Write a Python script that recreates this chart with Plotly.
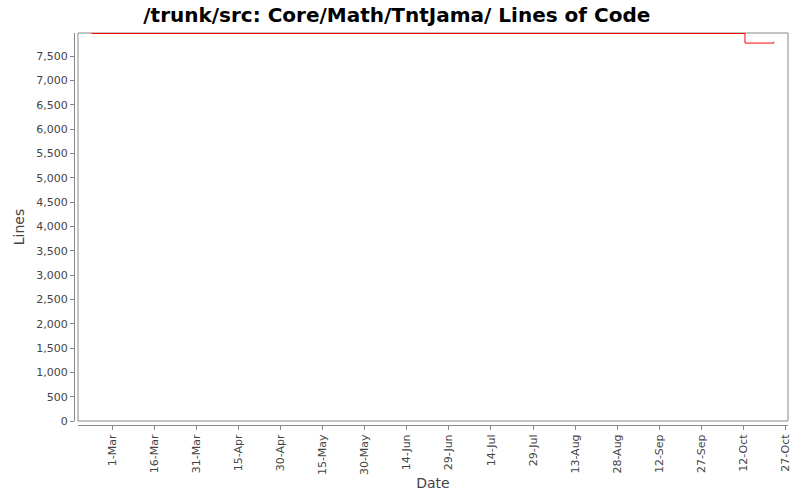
import plotly.graph_objects as go

# step data (lines of code over time)
dates = ["2009-02-21 14:00", "2009-10-12 14:00", "2009-10-22 20:00"]
lines = [7965, 7768, 7795]

tick_dates = ["2009-03-01", "2009-03-16", "2009-03-31", "2009-04-15", "2009-04-30",
              "2009-05-15", "2009-05-30", "2009-06-14", "2009-06-29", "2009-07-14",
              "2009-07-29", "2009-08-13", "2009-08-28", "2009-09-12", "2009-09-27",
              "2009-10-12", "2009-10-27"]
tick_text = ["1-Mar", "16-Mar", "31-Mar", "15-Apr", "30-Apr", "15-May", "30-May",
             "14-Jun", "29-Jun", "14-Jul", "29-Jul", "13-Aug", "28-Aug", "12-Sep",
             "27-Sep", "12-Oct", "27-Oct"]
y_ticks = list(range(0, 8000, 500))

fig = go.Figure()
fig.add_trace(go.Scatter(
    x=dates, y=lines, mode="lines", line=dict(color="#ff0000", width=1, shape="hv"),
    showlegend=False, hoverinfo="skip"))

tickfont = dict(family="DejaVu Sans", size=11, color="#444444")
labelfont = dict(family="DejaVu Sans", size=14, color="#444444")
fig.update_layout(
    width=800, height=500,
    margin=dict(l=74, r=12, t=33, b=75, autoexpand=False),
    paper_bgcolor="white", plot_bgcolor="white",
    title=dict(text="<b>/trunk/src: Core/Math/TntJama/ Lines of Code</b>",
               x=0.496, xanchor="center", y=0.971, yanchor="middle",
               font=dict(family="DejaVu Sans", size=20, color="black")),
    xaxis=dict(domain=[0.0056, 1], anchor="free", position=0, automargin=False,
               range=["2009-02-16 18:00", "2009-10-27 22:00"],
               tickmode="array", tickvals=tick_dates, ticktext=tick_text,
               tickangle=-90, tickfont=tickfont, ticks="outside", ticklen=4,
               tickcolor="#888888", showline=True, linecolor="#888888",
               showgrid=False, zeroline=False,
               title=dict(text="Date", font=labelfont, standoff=4)),
    yaxis=dict(domain=[0.0102, 1], anchor="free", position=0, automargin=False,
               range=[0, 7975], tickmode="array", tickvals=y_ticks,
               tickformat=",d", tickfont=tickfont, ticks="outside", ticklen=4,
               tickcolor="#888888", showline=True, linecolor="#888888",
               showgrid=False, zeroline=False,
               title=dict(text="Lines", font=labelfont, standoff=7)),
)
# plot area frame
fig.add_shape(type="rect", xref="x domain", yref="y domain", x0=0, x1=1, y0=0, y1=1,
              line=dict(color="#888888", width=1), layer="below")

# the page body has a default 8px margin; drop it so the chart sits at 0,0
fig.write_html("out.html", config={"displayModeBar": False},
               post_script="document.body.style.margin='0';")
